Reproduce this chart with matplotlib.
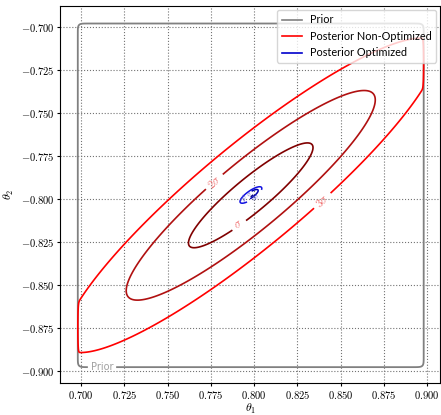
import numpy as np
import matplotlib
matplotlib.use("Agg")
import matplotlib.pyplot as plt
from matplotlib.lines import Line2D

plt.rcParams['mathtext.fontset'] = 'cm'
plt.rcParams['font.family'] = 'serif'
plt.rcParams['font.serif'] = ['cmr10', 'DejaVu Serif']
plt.rcParams['axes.formatter.use_mathtext'] = True

# prior box (uniform) on theta1, theta2
prior_x = [0.698, 0.898]
prior_y = [-0.898, -0.698]

# non-optimized posterior: mean, std, correlation
mean_non = [0.798, -0.798]
std_non = [0.036, 0.0305]
rho_non = 0.91

# optimized posterior
mean_opt = [0.7981, -0.7978]
std_opt = [0.0021, 0.0016]
rho_opt = 0.8

sigmas = [3, 2, 1]
red_cols = ['#ff0000', '#b01010', '#800000']
blue_cols = ['#1010e0', '#0000b0', '#000080']

xticks = [0.700, 0.725, 0.750, 0.775, 0.800, 0.825, 0.850, 0.875, 0.900]
yticks = [-0.700, -0.725, -0.750, -0.775, -0.800, -0.825, -0.850, -0.875, -0.900]


def soft_prior(X, Y, w):
    sx = 1 / (1 + np.exp(-(X - prior_x[0]) / w)) / (1 + np.exp((X - prior_x[1]) / w))
    sy = 1 / (1 + np.exp(-(Y - prior_y[0]) / w)) / (1 + np.exp((Y - prior_y[1]) / w))
    return sx * sy


def gauss(X, Y, m, s, r):
    dx = (X - m[0]) / s[0]
    dy = (Y - m[1]) / s[1]
    d2 = (dx**2 - 2 * r * dx * dy + dy**2) / (1 - r**2)
    return np.exp(-d2 / 2)


x = np.linspace(0.685, 0.91, 1200)
y = np.linspace(-0.91, -0.685, 1200)
X, Y = np.meshgrid(x, y)

fig = plt.figure(figsize=(4.41, 4.15), dpi=100)
ax = fig.add_axes([0.136, 0.076, 0.862, 0.91])

# prior
P = soft_prior(X, Y, 0.0009)
cp = ax.contour(X, Y, P, levels=[0.5], colors='gray', linewidths=1.3)
pl = ax.clabel(cp, fmt={0.5: 'Prior'}, fontsize=7, manual=[(0.712, -0.897)],
               inline=True, inline_spacing=3)
for t in pl:
    t.set_family('DejaVu Sans')
    t.set_color('#a0a0a0')

# non-optimized posterior (truncated by prior)
post = gauss(X, Y, mean_non, std_non, rho_non) * soft_prior(X, Y, 0.0002)
lev = [np.exp(-s**2 / 2) for s in sigmas]
cn = ax.contour(X, Y, post, levels=lev, colors=red_cols, linewidths=1.2)
fmt = {lev[0]: r'$3\sigma$', lev[1]: r'$2\sigma$', lev[2]: r'$\sigma$'}
lbls = ax.clabel(cn, fmt=fmt, fontsize=8,
                 manual=[(0.842, -0.804), (0.776, -0.789), (0.791, -0.815)],
                 inline=True, inline_spacing=4)
for t in lbls:
    t.set_color('#f07070')

# optimized posterior
xo = np.linspace(0.785, 0.812, 400)
yo = np.linspace(-0.811, -0.784, 400)
Xo, Yo = np.meshgrid(xo, yo)
po = gauss(Xo, Yo, mean_opt, std_opt, rho_opt)
co = ax.contour(Xo, Yo, po, levels=lev, colors=blue_cols, linewidths=1.1)
lb = ax.clabel(co, fmt=fmt, fontsize=4.5, inline=True)
for t in lb:
    t.set_color('#5050d0')

ax.set_xlim(0.6877, 0.9075)
ax.set_ylim(-0.9075, -0.6877)
ax.set_xticks(xticks)
ax.set_yticks(yticks)
ax.tick_params(labelsize=7.6, length=2.5, pad=1.5)
ax.grid(True, color='0.45', linestyle=':', linewidth=0.8)
ax.set_xlabel(r'$\theta_1$', fontsize=8.5)
ax.set_ylabel(r'$\theta_2$', fontsize=8.5)
ax.xaxis.set_label_coords(0.5, -0.048, transform=ax.transAxes)
ax.yaxis.set_label_coords(-0.115, 0.5, transform=ax.transAxes)

handles = [Line2D([], [], color='gray', lw=1.2),
           Line2D([], [], color='red', lw=1.2),
           Line2D([], [], color='#0000cc', lw=1.2)]
leg = ax.legend(handles, ['Prior', 'Posterior Non-Optimized', 'Posterior Optimized'],
                loc='upper right', prop={'family': 'Lato', 'size': 7.8},
                borderaxespad=0.4, framealpha=0.8, handlelength=1.9,
                handletextpad=0.7)

fig.savefig('out.png', dpi=100)
